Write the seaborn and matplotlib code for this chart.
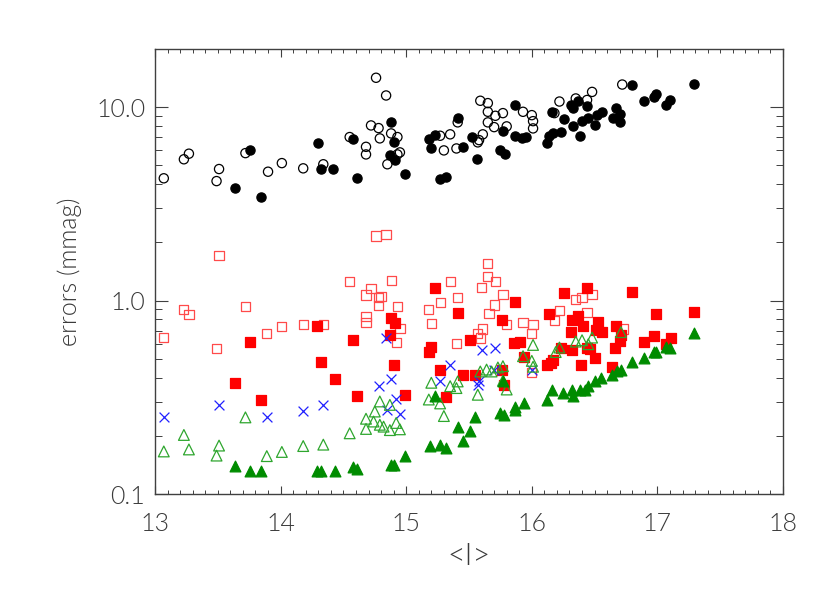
import numpy as np
import pandas as pd
import matplotlib
matplotlib.use("Agg")
import matplotlib.pyplot as plt
import seaborn as sns
from matplotlib.ticker import FixedLocator, FixedFormatter, MultipleLocator, NullFormatter

# open black circles
oc_x = [13.07, 13.23, 13.27, 13.51, 13.49, 13.72, 13.90, 14.01, 14.18, 14.34, 14.55, 14.68, 14.68,
        14.72, 14.78, 14.79, 14.76, 14.84, 14.88, 14.93, 14.95, 14.93, 14.85, 15.27, 15.35, 15.30,
        15.40, 15.41, 15.59, 15.65, 15.65, 15.71, 15.77, 15.65, 15.70, 15.80, 15.61, 15.58, 15.57,
        15.93, 16.00, 16.01, 16.01, 16.18, 16.22, 16.35, 16.44, 16.48, 16.72]
oc_y = [4.29, 5.38, 5.75, 4.79, 4.15, 5.79, 4.64, 5.14, 4.83, 5.07, 7.01, 6.24, 5.70,
        8.05, 7.80, 6.90, 14.2, 11.5, 7.32, 7.01, 5.84, 5.70, 5.07, 7.12, 7.24, 5.98,
        6.12, 8.35, 10.8, 10.5, 9.47, 9.03, 9.32, 8.35, 7.89, 7.96, 7.24, 6.76, 6.58,
        9.47, 9.10, 8.47, 7.77, 9.32, 10.7, 11.1, 10.9, 12.0, 13.1]

# filled black circles
fc_x = [13.64, 13.76, 13.84, 14.30, 14.32, 14.42, 14.58, 14.61, 14.88, 14.90, 14.87, 14.91, 14.99,
        15.18, 15.23, 15.20, 15.41, 15.45, 15.52, 15.56, 15.27, 15.32, 15.77, 15.75, 15.79, 15.87,
        15.87, 15.92, 15.95, 16.12, 16.14, 16.17, 16.23, 16.16, 16.26, 16.33, 16.38, 16.31, 16.37,
        16.33, 16.44, 16.40, 16.45, 16.50, 16.52, 16.56, 16.65, 16.67, 16.70, 16.70, 16.80, 16.89,
        16.97, 16.99, 17.07, 17.10, 17.29]
fc_y = [3.83, 6.00, 3.45, 6.50, 4.79, 4.81, 6.82, 4.32, 8.38, 6.58, 5.66, 5.31, 4.53,
        6.84, 7.17, 6.17, 8.81, 6.22, 7.01, 5.41, 4.25, 4.34, 7.53, 5.98, 5.70, 10.3,
        7.12, 6.95, 7.01, 6.53, 7.12, 7.35, 7.46, 9.47, 8.68, 8.01, 7.06, 10.3, 10.8,
        9.85, 10.1, 8.47, 8.75, 8.08, 9.10, 9.47, 8.75, 9.93, 9.25, 8.35, 13.1, 10.8,
        11.3, 11.7, 10.3, 10.9, 13.2]

# open red squares
os_x = [13.51, 13.07, 13.23, 13.27, 13.72, 13.49, 13.89, 14.01, 14.18, 14.34, 14.55, 14.72, 14.68,
        14.78, 14.78, 14.68, 14.68, 14.76, 14.84, 14.88, 14.80, 14.93, 14.95, 14.92, 15.18, 15.20,
        15.27, 15.35, 15.41, 15.40, 15.65, 15.65, 15.71, 15.60, 15.77, 15.70, 15.66, 15.80, 15.93,
        16.01, 16.00, 15.61, 15.57, 15.59, 16.00, 16.35, 16.40, 16.48, 16.22, 16.18, 16.44, 16.73]
os_y = [1.71, 0.644, 0.899, 0.851, 0.928, 0.563, 0.676, 0.732, 0.755, 0.752, 1.25, 1.16, 1.07,
        1.04, 0.942, 0.824, 0.773, 2.16, 2.20, 1.27, 1.05, 0.936, 0.720, 0.605, 0.899, 0.761,
        0.981, 1.25, 1.04, 0.600, 1.55, 1.33, 1.25, 1.17, 1.08, 0.950, 0.861, 0.755, 0.773,
        0.749, 0.676, 0.714, 0.676, 0.640, 0.423, 1.01, 1.04, 1.08, 0.892, 0.786, 0.871, 0.714]

# filled red squares
fs_x = [13.76, 14.29, 14.58, 13.64, 13.84, 14.32, 14.43, 14.61, 14.88, 14.91, 14.87, 14.90, 14.99,
        15.23, 15.41, 15.20, 15.18, 15.27, 15.32, 15.51, 15.45, 15.55, 15.87, 15.76, 15.86, 15.91,
        15.94, 15.76, 15.78, 16.12, 16.14, 16.26, 16.44, 16.80, 16.32, 16.37, 16.41, 16.31, 16.53,
        16.51, 16.56, 16.67, 16.71, 16.70, 16.66, 16.23, 16.32, 16.44, 16.46, 16.50, 16.17, 16.15,
        16.39, 16.64, 16.89, 16.97, 17.07, 17.11, 16.99, 17.29]
fs_y = [0.614, 0.743, 0.624, 0.373, 0.306, 0.481, 0.393, 0.323, 0.811, 0.767, 0.665, 0.466, 0.326,
        1.16, 0.864, 0.577, 0.542, 0.437, 0.318, 0.629, 0.413, 0.413, 0.988, 0.792, 0.605, 0.610,
        0.508, 0.437, 0.367, 0.466, 0.851, 1.10, 1.16, 1.11, 0.792, 0.837, 0.743, 0.687, 0.773,
        0.708, 0.687, 0.743, 0.665, 0.619, 0.568, 0.572, 0.558, 0.568, 0.563, 0.504, 0.492, 0.473,
        0.462, 0.451, 0.614, 0.660, 0.595, 0.640, 0.857, 0.877]

# blue crosses
bx_x = [13.07, 13.51, 13.89, 14.18, 14.34, 14.78, 14.84, 14.88, 14.92, 14.85, 14.95, 15.35, 15.27,
        15.60, 15.71, 15.58, 15.57, 15.70, 16.00]
bx_y = [0.251, 0.289, 0.251, 0.269, 0.289, 0.361, 0.640, 0.391, 0.311, 0.272, 0.259, 0.462, 0.382,
        0.558, 0.568, 0.385, 0.364, 0.440, 0.440]

# open green triangles
ot_x = [13.07, 13.23, 13.27, 13.51, 13.49, 13.72, 13.89, 14.01, 14.18, 14.34, 14.55, 14.68, 14.68,
        14.75, 14.79, 14.79, 14.87, 14.74, 14.82, 14.92, 14.87, 14.95, 15.20, 15.18, 15.27, 15.30,
        15.35, 15.41, 15.40, 15.57, 15.59, 15.64, 15.68, 15.73, 15.77, 15.80, 15.77, 15.93, 16.01,
        16.00, 16.01, 16.22, 16.19, 16.35, 16.40, 16.48, 16.45, 16.71]
ot_y = [0.166, 0.202, 0.170, 0.178, 0.158, 0.249, 0.157, 0.165, 0.177, 0.180, 0.206, 0.245, 0.217,
        0.267, 0.301, 0.228, 0.289, 0.237, 0.223, 0.233, 0.214, 0.216, 0.376, 0.308, 0.294, 0.253,
        0.361, 0.382, 0.353, 0.326, 0.430, 0.440, 0.430, 0.451, 0.458, 0.347, 0.385, 0.516, 0.590,
        0.488, 0.455, 0.572, 0.542, 0.614, 0.624, 0.644, 0.595, 0.687]

# filled green triangles
ft_x = [13.64, 13.76, 13.84, 14.29, 14.32, 14.43, 14.58, 14.61, 14.88, 14.90, 14.99, 15.19, 15.27,
        15.32, 15.41, 15.45, 15.51, 15.55, 15.23, 15.77, 15.75, 15.78, 15.87, 15.94, 15.87, 16.12,
        16.16, 16.25, 16.32, 16.33, 16.38, 16.42, 16.45, 16.50, 16.55, 16.64, 16.68, 16.71, 16.80,
        16.89, 16.97, 16.99, 17.07, 17.10, 17.29]
ft_y = [0.140, 0.132, 0.131, 0.131, 0.131, 0.131, 0.138, 0.135, 0.142, 0.141, 0.157, 0.178, 0.180,
        0.173, 0.221, 0.189, 0.212, 0.249, 0.321, 0.382, 0.261, 0.255, 0.282, 0.294, 0.272, 0.306,
        0.347, 0.334, 0.344, 0.323, 0.344, 0.347, 0.361, 0.382, 0.397, 0.410, 0.430, 0.440, 0.484,
        0.504, 0.545, 0.545, 0.577, 0.572, 0.681]

sns.set_style("white")
plt.rcParams['font.family'] = ['Lato', 'DejaVu Sans']
text_col = '#3a3a3a'

fig = plt.figure(figsize=(8.3, 5.93), dpi=100)
ax = fig.add_axes([155 / 830, 1 - 494 / 593, 628 / 830, 445 / 593])

ms = 44

def draw(xs, ys, marker, face, edge, lw=0.9, size=ms):
    sns.scatterplot(x=xs, y=ys, marker=marker, s=size, ax=ax, color=edge, linewidth=lw, zorder=3)
    pts = ax.collections[-1]
    pts.set_facecolor(face)
    pts.set_edgecolor(edge)
    pts.set_linewidth(lw)

draw(oc_x, oc_y, 'o', 'none', 'black')
draw(fc_x, fc_y, 'o', 'black', 'black')
draw(os_x, os_y, 's', 'none', '#ff4a4a')
draw(fs_x, fs_y, 's', '#ff0000', '#ff0000')
draw(bx_x, bx_y, 'x', '#2020ff', '#2020ff', lw=0.9, size=50)
draw(ot_x, ot_y, '^', 'none', '#2ea62e', size=60)
draw(ft_x, ft_y, '^', '#008c00', '#008c00', size=60)

ax.set_yscale('log')
ax.set_xlim(13, 18)
ax.set_ylim(0.1, 20)

ax.xaxis.set_major_locator(MultipleLocator(1))
ax.xaxis.set_minor_locator(MultipleLocator(0.1))
ax.yaxis.set_major_locator(FixedLocator([0.1, 1.0, 10.0]))
ax.yaxis.set_major_formatter(FixedFormatter(['0.1', '1.0', '10.0']))
minors = [m * 10.0 ** e for e in (-1, 0, 1) for m in range(2, 10) if m * 10.0 ** e < 20.5]
ax.yaxis.set_minor_locator(FixedLocator(minors))
ax.yaxis.set_minor_formatter(NullFormatter())

for s in ax.spines.values():
    s.set_visible(True)
    s.set_color('#404040')
    s.set_linewidth(1.0)

ax.tick_params(axis='x', which='major', direction='in', length=5.8, width=0.8, color='#404040',
               top=True, bottom=True, pad=13, labelsize=18, labelcolor=text_col)
ax.tick_params(axis='x', which='minor', direction='in', length=2.9, width=0.7, color='#404040',
               top=True, bottom=True)
ax.tick_params(axis='y', which='major', direction='in', length=9.1, width=0.8, color='#404040',
               left=True, right=True, pad=7, labelsize=18, labelcolor=text_col)
ax.tick_params(axis='y', which='minor', direction='in', length=4.8, width=0.7, color='#404040',
               left=True, right=True)
for lab in ax.get_xticklabels() + ax.get_yticklabels():
    lab.set_fontweight(300)

ax.set_xlabel('<I>', fontsize=22, color=text_col, fontweight=300, labelpad=4)
ax.set_ylabel('errors (mmag)', fontsize=18, color=text_col, fontweight=300, labelpad=10)

fig.savefig('out.png', dpi=100)
